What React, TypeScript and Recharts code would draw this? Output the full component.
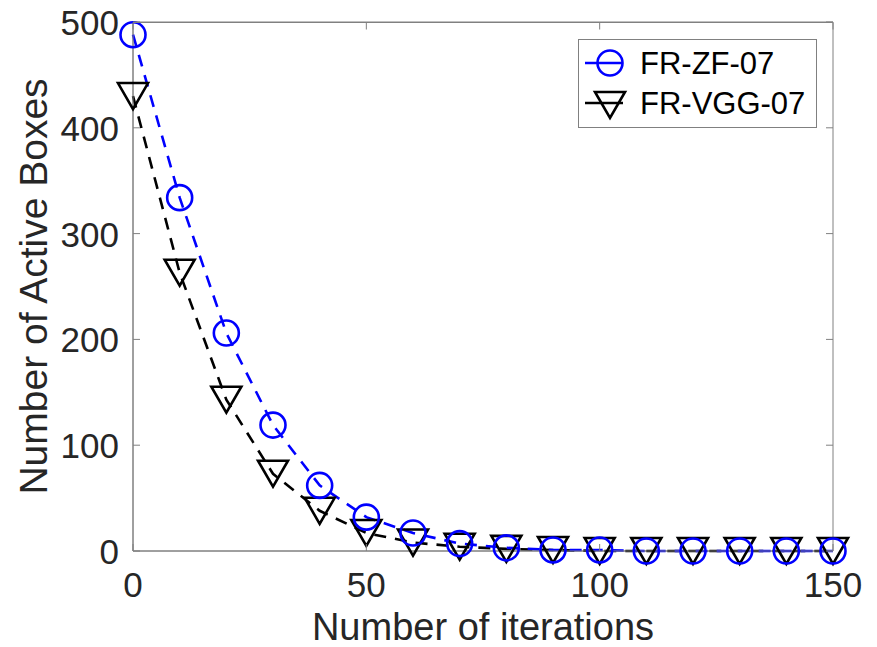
import React from 'react';
import { LineChart, Line, XAxis, YAxis, ReferenceArea } from 'recharts';

const iterations = [0, 10, 20, 30, 40, 50, 60, 70, 80, 90, 100, 110, 120, 130, 140, 150];
const zfBoxes = [488, 334, 206, 119, 62, 32, 17, 7, 3, 1, 1, 0, 0, 0, 0, 0];
const vggBoxes = [430, 263, 143, 73, 38, 17, 8, 4, 2, 1, 0, 0, 0, 0, 0, 0];
const xTicks = [0, 50, 100, 150];
const yTicks = [0, 100, 200, 300, 400, 500];

const data = iterations.map((it, i) => ({ it, zf: zfBoxes[i], vgg: vggBoxes[i] }));

const FONT = '"Liberation Sans", Arial, Helvetica, sans-serif';
const TXT = '#262626';
const AXIS = '#808080';
const TICK_LEN = 7;
const W = 877;
const H = 647;
const M = { top: 22, right: 44, left: 133, bottom: 96 };
const PLOT_W = W - M.left - M.right;
const PLOT_H = H - M.top - M.bottom;

const Circle = ({ cx, cy }: any) =>
  cx == null ? null : <circle cx={cx} cy={cy} r={12.5} fill="none" stroke="#0000ff" strokeWidth={2.6} />;

const Tri = ({ cx, cy }: any) => {
  if (cx == null) return null;
  const w = 15, h = 13;
  return (
    <path
      d={`M${cx - w},${cy - h} L${cx + w},${cy - h} L${cx},${cy + h} Z`}
      fill="none"
      stroke="#000"
      strokeWidth={2.6}
    />
  );
};

// bottom axis tick: label below, marks pointing into the plot (bottom + top edges)
const BottomTick = ({ x, y, payload, index }: any) => {
  const axisY = y - 12;
  const topY = axisY - PLOT_H + 0.5;
  return (
    <g>
      {index === 0 && <line x1={x} x2={x + PLOT_W} y1={topY} y2={topY} stroke={AXIS} />}
      <line x1={x} x2={x} y1={axisY} y2={axisY - TICK_LEN} stroke={AXIS} />
      <line x1={x} x2={x} y1={topY} y2={topY + TICK_LEN} stroke={AXIS} />
      <text x={x} y={y + 34} textAnchor="middle" fontSize={35} fontFamily={FONT} fill={TXT}>
        {payload.value}
      </text>
    </g>
  );
};

const LeftTick = ({ x, y, payload }: any) => {
  const axisX = x + 14;
  return (
    <g>
      <line x1={axisX} x2={axisX + TICK_LEN} y1={y} y2={y} stroke={AXIS} />
      <line x1={axisX + PLOT_W} x2={axisX + PLOT_W - TICK_LEN} y1={y} y2={y} stroke={AXIS} />
      <text x={x} y={y + 13} textAnchor="end" fontSize={35} fontFamily={FONT} fill={TXT}>
        {payload.value}
      </text>
    </g>
  );
};

const LegendBox = () => (
  <svg width={240} height={90} style={{ position: 'absolute', left: 578, top: 39 }}>
    <rect x={0.5} y={0.5} width={238} height={88} fill="#fff" stroke={AXIS} />
    <line x1={7} x2={45} y1={24} y2={24} stroke="#0000ff" strokeWidth={2.6} />
    <circle cx={32} cy={24} r={12.5} fill="none" stroke="#0000ff" strokeWidth={2.6} />
    <text x={62} y={35} fontSize={31} fontFamily={FONT} fill="#000">FR-ZF-07</text>
    <line x1={7} x2={45} y1={64} y2={64} stroke="#000" strokeWidth={2.6} />
    <path d="M17,53 L47,53 L32,79 Z" fill="none" stroke="#000" strokeWidth={2.6} />
    <text x={62} y={75} fontSize={31} fontFamily={FONT} fill="#000">FR-VGG-07</text>
  </svg>
);

export default function App() {
  return (
    <div style={{ position: 'absolute', left: 0, top: 0, width: W, height: H, background: '#fff' }}>
      <LineChart width={W} height={H} data={data} margin={{ top: M.top, right: M.right, bottom: 0, left: 0 }}>
        <XAxis
          dataKey="it"
          type="number"
          domain={[0, 150]}
          ticks={xTicks}
          tickLine={false}
          tickSize={0}
          tickMargin={12}
          stroke={AXIS}
          height={M.bottom}
          tick={<BottomTick />}
          label={({ viewBox }: any) => (
            <text
              x={viewBox.x + viewBox.width / 2}
              y={viewBox.y + 89}
              textAnchor="middle"
              fontSize={38}
              fontFamily={FONT}
              fill={TXT}
            >
              Number of iterations
            </text>
          )}
        />
        <YAxis
          type="number"
          domain={[0, 500]}
          ticks={yTicks}
          tickLine={false}
          tickSize={0}
          tickMargin={14}
          width={M.left}
          stroke={AXIS}
          tick={<LeftTick />}
          label={({ viewBox }: any) => (
            <text
              x={viewBox.x + 47}
              y={viewBox.y + viewBox.height / 2}
              transform={`rotate(-90 ${viewBox.x + 47} ${viewBox.y + viewBox.height / 2})`}
              textAnchor="middle"
              fontSize={39}
              fontFamily={FONT}
              fill={TXT}
            >
              Number of Active Boxes
            </text>
          )}
        />
        <ReferenceArea
          x1={0}
          x2={150}
          y1={0}
          y2={500}
          fill="none"
          stroke={AXIS}
          strokeWidth={1}
          ifOverflow="visible"
        />
        <Line
          type="linear"
          dataKey="vgg"
          stroke="#000"
          strokeWidth={2.6}
          strokeDasharray="12 9"
          dot={<Tri />}
          activeDot={false}
          isAnimationActive={false}
        />
        <Line
          type="linear"
          dataKey="zf"
          stroke="#0000ff"
          strokeWidth={2.6}
          strokeDasharray="12 9"
          dot={<Circle />}
          activeDot={false}
          isAnimationActive={false}
        />
      </LineChart>
      <LegendBox />
    </div>
  );
}
